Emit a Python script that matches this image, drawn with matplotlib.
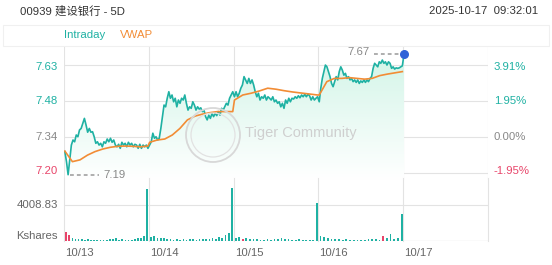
import numpy as np
import matplotlib.pyplot as plt
from matplotlib.patches import Ellipse, Rectangle

plt.rcParams['font.family'] = ['Liberation Sans', 'Noto Sans CJK SC', 'DejaVu Sans']

W, H = 552, 265

# ---- data ----
title = '00939 建设银行 - 5D'
stamp = '2025-10-17  09:32:01'
days = ['10/13', '10/14', '10/15', '10/16', '10/17']
prev_close = 7.34

price_d1 = [7.282, 7.242, 7.19, 7.249, 7.308, 7.328, 7.321, 7.348, 7.341, 7.368, 7.374, 7.394,
            7.414, 7.388, 7.359, 7.374, 7.359, 7.361, 7.341, 7.315, 7.321, 7.308, 7.315, 7.301,
            7.321, 7.315, 7.332, 7.321, 7.335, 7.319, 7.328, 7.308, 7.301, 7.311, 7.295, 7.319,
            7.308, 7.315, 7.301, 7.319, 7.308, 7.315, 7.301, 7.311, 7.308, 7.295, 7.311, 7.295,
            7.308, 7.301, 7.308, 7.295]
price_d2 = [7.308, 7.321, 7.355, 7.335, 7.341, 7.328, 7.335, 7.374, 7.421, 7.467, 7.460, 7.494,
            7.520, 7.494, 7.507, 7.480, 7.494, 7.460, 7.487, 7.474, 7.494, 7.487, 7.507, 7.474,
            7.447, 7.460, 7.454, 7.480, 7.467, 7.447, 7.460, 7.451, 7.456, 7.441, 7.447, 7.421,
            7.408, 7.427, 7.414, 7.434, 7.421, 7.434, 7.425, 7.441, 7.427, 7.454, 7.447, 7.460,
            7.474, 7.467, 7.494, 7.507, 7.520]
price_d3 = [7.500, 7.520, 7.500, 7.514, 7.534, 7.547, 7.580, 7.567, 7.553, 7.573, 7.553, 7.567,
            7.547, 7.520, 7.500, 7.514, 7.487, 7.500, 7.494, 7.507, 7.487, 7.500, 7.494, 7.487,
            7.500, 7.480, 7.487, 7.474, 7.480, 7.460, 7.474, 7.454, 7.487, 7.474, 7.494, 7.480,
            7.494, 7.491, 7.500, 7.494, 7.504, 7.496, 7.507, 7.500, 7.510, 7.500, 7.510, 7.504,
            7.487, 7.500, 7.487, 7.494, 7.500]
price_d4 = [7.480, 7.534, 7.573, 7.600, 7.626, 7.619, 7.600, 7.580, 7.553, 7.540, 7.560, 7.580,
            7.567, 7.600, 7.619, 7.606, 7.586, 7.593, 7.573, 7.580, 7.567, 7.573, 7.560, 7.567,
            7.557, 7.567, 7.553, 7.563, 7.557, 7.567, 7.557, 7.567, 7.560, 7.573, 7.580, 7.613,
            7.633, 7.626, 7.619, 7.639, 7.633, 7.646, 7.633, 7.639, 7.626, 7.639, 7.633, 7.613,
            7.619, 7.610, 7.615, 7.613, 7.615, 7.619, 7.623]
price_d5 = [7.67]

vwap_d1 = [7.284, 7.242, 7.249, 7.268, 7.282, 7.292, 7.299, 7.303, 7.304, 7.303, 7.301, 7.304]
vwap_d2 = [7.319, 7.328, 7.332, 7.348, 7.374, 7.408, 7.423, 7.431, 7.437, 7.441, 7.441, 7.441]
vwap_d3 = [7.487, 7.507, 7.514, 7.523, 7.534, 7.530, 7.524, 7.519, 7.515, 7.511, 7.507]
vwap_d4 = [7.507, 7.560, 7.573, 7.573, 7.576, 7.573, 7.570, 7.573, 7.584, 7.590, 7.595, 7.600]

# volume in thousand shares, last value of each day = closing auction
vol_d1 = [1036, 640, 310, 220, 260, 180, 150, 200, 120, 90, 110, 80, 140, 90, 260, 180,
          320, 150, 200, 120, 160, 110, 210, 280, 360, 560, 5757]
vol_d2 = [420, 550, 330, 280, 380, 240, 200, 160, 220, 150, 180, 120, 200, 170, 150, 230,
          190, 260, 180, 320, 260, 420, 380, 650, 900, 5868]
vol_d3 = [380, 450, 260, 300, 220, 180, 240, 160, 130, 180, 150, 200, 260, 300, 220, 180,
          150, 120, 170, 140, 110, 160, 130, 4265]
vol_d4 = [550, 420, 300, 260, 220, 180, 150, 200, 130, 110, 160, 140, 120, 180, 220, 260,
          150, 560, 300, 740, 260, 320, 2973]
vol_down = {0: [0, 1], 1: [], 2: [2], 3: [17]}

ytick_price = [7.63, 7.48, 7.34, 7.20]
ytick_pct = ['3.91%', '1.95%', '0.00%', '-1.95%']
vol_tick = 4008.83

# ---- colours ----
teal = '#1fb1a3'
orange = '#f28c35'
red = '#e8456a'
grey_txt = '#888888'
grid = '#e3e3e3'


def box(l, t, r, b):
    return [l / W, 1 - b / H, (r - l) / W, (b - t) / H]


fig = plt.figure(figsize=(W / 100, H / 100), dpi=100)

# header + legend band
fig.text(20 / W, 1 - 11 / H, title, fontsize=8.2, color='#333333', va='center', ha='left')
fig.text(538 / W, 1 - 11 / H, stamp, fontsize=8.2, color='#333333', va='center', ha='right')
fig.patches.append(Rectangle((3 / W, 1 - 46 / H), 546 / W, 21 / H, transform=fig.transFigure,
                             facecolor='white', edgecolor='#f0f0f0', lw=0.8))
fig.text(64 / W, 1 - 35 / H, 'Intraday', fontsize=8.2, color=teal, va='center')
fig.text(120 / W, 1 - 35 / H, 'VWAP', fontsize=8.2, color=orange, va='center')

# ---- price panel ----
px_per = 36 / (prev_close * 0.0195)
ylo = prev_close - 43 / px_per
yhi = prev_close + 90 / px_per

ax = fig.add_axes(box(64, 47, 488, 180))
ax.set_xlim(0, 5)
ax.set_ylim(ylo, yhi)
ax.axis('off')

px, py = [], []
for d, arr in enumerate([price_d1, price_d2, price_d3, price_d4]):
    px += list(np.linspace(d + 0.01, d + 0.99, len(arr)))
    py += arr
px.append(4.01)
py += price_d5
px, py = np.array(px), np.array(py)

vx, vy = [], []
for d, arr in enumerate([vwap_d1, vwap_d2, vwap_d3, vwap_d4]):
    vx += list(np.linspace(d + 0.01, d + 0.99, len(arr)))
    vy += arr

for i in range(6):
    ax.axvline(i, color=grid, lw=0.8, zorder=0)
grid_levels = [prev_close * (1 + p) for p in [0.0391, 0.0195, 0.0, -0.0195]]
for g in grid_levels:
    ax.axhline(g, color=grid, lw=0.8, zorder=0)

# gradient fill under the price line
fill = ax.fill_between(px, py, ylo, color='none')
grad = np.linspace(0, 1, 256).reshape(-1, 1)
cmap = plt.matplotlib.colors.LinearSegmentedColormap.from_list('g', ['#ffffff', '#d3f5e8'])
img = ax.imshow(grad, extent=[0, 5, ylo, py.max()], origin='lower', aspect='auto',
                cmap=cmap, zorder=1)
img.set_clip_path(fill.get_paths()[0], transform=ax.transData)

ax.plot(px, py, color=teal, lw=1.2, zorder=3)
ax.plot(vx, vy, color=orange, lw=1.2, zorder=4)
ax.scatter([px[-1]], [py[-1]], s=30, color='#2f62d8', zorder=5)

# min / max markers
imin = int(np.argmin(py))
ax.plot([px[imin] + 0.02, px[imin] + 0.37], [py[imin]] * 2, ls=(0, (2.5, 2)), color='#999999', lw=1.1)
ax.text(px[imin] + 0.42, py[imin], '%.2f' % py[imin], color=grey_txt, fontsize=8.2, va='center')
ax.plot([px[-1] - 0.35, px[-1] - 0.03], [py[-1]] * 2, ls=(0, (2.5, 2)), color='#999999', lw=1.1)
ax.text(px[-1] - 0.4, py[-1] + 0.006, '%.2f' % py[-1], color=grey_txt, fontsize=8.2,
        va='center', ha='right')

# axis labels
lab_col = [teal, teal, grey_txt, red]
lab_y = [67, 101, 137, 171]
for t, p, c, yy in zip(ytick_price, ytick_pct, lab_col, lab_y):
    fig.text(58 / W, 1 - yy / H, '%.2f' % t, color=c, fontsize=8.2, ha='right', va='center')
    fig.text(494 / W, 1 - yy / H, p, color=c, fontsize=8.2, ha='left', va='center')

# watermark
fig.patches.append(Ellipse((213 / W, 1 - 135 / H), 54 / W, 54 / H, transform=fig.transFigure,
                           fill=False, edgecolor='#d8d8d8', lw=1.3))
fig.patches.append(Ellipse((213 / W, 1 - 135 / H), 44 / W, 44 / H, transform=fig.transFigure,
                           fill=False, edgecolor='#e2e2e2', lw=0.9))
fig.text(245 / W, 1 - 133 / H, 'Tiger Community', fontsize=10.5, color='#cfcfcf', va='center')

# ---- volume panel ----
vmax = 57 * vol_tick / 36
axv = fig.add_axes(box(64, 184, 488, 241))
axv.set_xlim(0, 5)
axv.set_ylim(0, vmax)
axv.axis('off')
for i in range(6):
    axv.axvline(i, color=grid, lw=0.8, zorder=0, ymax=1.1, clip_on=False)
axv.axhline(vol_tick, color=grid, lw=0.8, zorder=0)
axv.axhline(0, color='#d8d8d8', lw=0.9, zorder=0)
for d, arr in enumerate([vol_d1, vol_d2, vol_d3, vol_d4]):
    xs = np.linspace(d + 0.025, d + 0.982, len(arr))
    cols = [red if k in vol_down[d] else teal for k in range(len(arr))]
    axv.bar(xs, arr, width=0.02, color=cols, lw=0, antialiased=False, zorder=2)

fig.text(58 / W, 1 - 205 / H, '%.2f' % vol_tick, color='#666666', fontsize=8.2, ha='right', va='center')
fig.text(58 / W, 1 - 236 / H, 'Kshares', color='#666666', fontsize=8.2, ha='right', va='center')
for i, dl in enumerate(days):
    fig.text((65 + i * 84.8) / W, 1 - 253 / H, dl, color='#666666', fontsize=8.2, ha='left', va='center')

fig.savefig('out.png', dpi=100)
